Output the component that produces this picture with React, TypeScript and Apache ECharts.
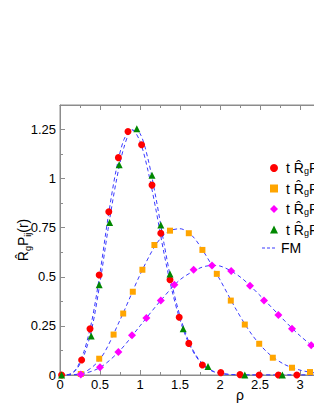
import React, { useEffect, useRef } from 'react';
import * as echarts from 'echarts';

// Simulation markers (rho, value)
const p11Rho = [0.02, 0.27, 0.375, 0.49, 0.61, 0.73, 0.85, 1.02, 1.15, 1.26, 1.375, 1.49, 1.61, 1.78, 2.01, 2.25, 2.49, 2.73, 2.96];
const p11Val = [0.0, 0.076, 0.235, 0.509, 0.831, 1.107, 1.24, 1.173, 0.967, 0.722, 0.485, 0.294, 0.161, 0.051, 0.012, 0.002, 0.0, 0.0, 0.0];

const p12Rho = [0.26, 0.49, 0.67, 0.79, 0.91, 1.03, 1.18, 1.375, 1.61, 1.78, 1.96, 2.135, 2.31, 2.49, 2.66, 2.9, 3.125];
const p12Val = [0.005, 0.083, 0.206, 0.313, 0.424, 0.536, 0.662, 0.735, 0.722, 0.637, 0.515, 0.379, 0.257, 0.159, 0.088, 0.037, 0.015];

const p13Rho = [0.26, 0.5, 0.73, 0.9, 1.08, 1.26, 1.43, 1.67, 1.9, 2.14, 2.375, 2.55, 2.73, 2.9, 3.14];
const p13Val = [0.003, 0.04, 0.117, 0.203, 0.29, 0.38, 0.46, 0.536, 0.558, 0.53, 0.455, 0.38, 0.306, 0.235, 0.152];

const p22Rho = [0.02, 0.39, 0.49, 0.62, 0.74, 0.96, 1.15, 1.26, 1.375, 1.54, 1.85, 2.31, 2.78];
const p22Val = [0.0, 0.198, 0.46, 0.777, 1.071, 1.254, 1.017, 0.764, 0.514, 0.235, 0.043, 0.0, 0.0];

// FM curves (rho, value)
const fm11Rho = [0, 0.1, 0.2, 0.3, 0.4, 0.5, 0.6, 0.7, 0.8, 0.9, 1.0, 1.1, 1.2, 1.3, 1.4, 1.5, 1.6, 1.7, 1.8, 1.9, 2.0, 2.2, 2.4, 4.5];
const fm11Val = [0, 0.002, 0.03, 0.12, 0.28, 0.52, 0.8, 1.04, 1.2, 1.25, 1.19, 1.04, 0.84, 0.62, 0.43, 0.28, 0.17, 0.095, 0.045, 0.02, 0.008, 0.001, 0, 0];

const fm22Rho = [0, 0.1, 0.2, 0.3, 0.4, 0.5, 0.6, 0.7, 0.8, 0.9, 1.0, 1.1, 1.2, 1.3, 1.4, 1.5, 1.6, 1.7, 1.8, 1.9, 2.0, 2.2, 2.4, 4.5];
const fm22Val = [0, 0.001, 0.025, 0.1, 0.24, 0.47, 0.74, 0.98, 1.16, 1.245, 1.23, 1.1, 0.9, 0.67, 0.46, 0.3, 0.18, 0.1, 0.05, 0.022, 0.009, 0.001, 0, 0];

const fm12Rho = [0, 0.25, 0.5, 0.75, 1.0, 1.2, 1.35, 1.5, 1.65, 1.8, 2.0, 2.2, 2.4, 2.6, 2.8, 3.0, 3.2, 3.5, 4.5];
const fm12Val = [0, 0.006, 0.08, 0.28, 0.51, 0.665, 0.73, 0.745, 0.71, 0.625, 0.485, 0.335, 0.205, 0.112, 0.055, 0.025, 0.01, 0.003, 0];

const fm13Rho = [0, 0.25, 0.5, 0.75, 1.0, 1.25, 1.5, 1.75, 1.9, 2.0, 2.25, 2.5, 2.75, 3.0, 3.25, 3.5, 3.75, 4.0, 4.5];
const fm13Val = [0, 0.004, 0.038, 0.125, 0.25, 0.375, 0.485, 0.545, 0.558, 0.555, 0.5, 0.405, 0.3, 0.2, 0.12, 0.065, 0.032, 0.015, 0.003];

const legendLabels: Record<string, string> = {
  P11: 't R\u0302{s|g}P{s|11}',
  P12: 't R\u0302{s|g}P{s|12}',
  P13: 't R\u0302{s|g}P{s|13}',
  P22: 't R\u0302{s|g}P{s|22}',
};
const fmLabel = 'FM';

const zip = (a: number[], b: number[]) => a.map((x, i) => [x, b[i]]);

const FONT = 'Liberation Sans, Arial, sans-serif';
const AXIS_COLOR = '#8c8c8c';
const FM_COLOR = '#3a3aff';

export default function App() {
  const ref = useRef<HTMLDivElement>(null);
  useEffect(() => {
    if (!ref.current) return;
    const chart = echarts.init(ref.current, undefined, { renderer: 'svg' });
    const fmSeries = (rho: number[], val: number[]) => ({
      name: 'FM',
      type: 'line',
      xAxisIndex: 0,
      yAxisIndex: 0,
      data: zip(rho, val),
      smooth: 0.3,
      symbol: 'none',
      lineStyle: { color: FM_COLOR, width: 1, type: [4, 3] },
      itemStyle: { color: FM_COLOR },
      z: 2,
    });
    const scatter = (name: string, rho: number[], val: number[], symbol: string, color: string, size: number) => ({
      name,
      type: 'scatter',
      xAxisIndex: 0,
      yAxisIndex: 0,
      data: zip(rho, val),
      symbol,
      symbolSize: size,
      itemStyle: { color, opacity: 1 },
      z: 3,
    });
    const axisCommon = {
      axisLine: { show: true, onZero: false, lineStyle: { color: AXIS_COLOR, width: 1 } },
      axisTick: { show: true, inside: true, length: 5, lineStyle: { color: AXIS_COLOR } },
      minorTick: { show: true, splitNumber: 2, length: 3, lineStyle: { color: AXIS_COLOR } },
      splitLine: { show: false },
      minorSplitLine: { show: false },
    };
    chart.setOption({
      animation: false,
      backgroundColor: '#ffffff',
      grid: {
        left: 60,
        top: 105,
        bottom: 32,
        right: -106,
        outerBoundsMode: 'none',
        containLabel: false,
        show: true,
        borderColor: AXIS_COLOR,
        borderWidth: 1,
        backgroundColor: 'transparent',
      },
      legend: {
        orient: 'vertical',
        left: 265,
        top: 155,
        itemWidth: 8,
        itemHeight: 8,
        itemGap: 4.5,
        data: ['P11', 'P12', 'P13', 'P22'],
        formatter: (n: string) => legendLabels[n],
        textStyle: {
          fontFamily: FONT,
          fontSize: 14,
          color: '#000',
          lineHeight: 16,
          padding: [0, 0, 0, 3],
          rich: {
            s: { fontSize: 9, fontFamily: FONT, color: '#000', lineHeight: 16, padding: [6, 0, 0, 0] },
          },
        },
      },
      graphic: [
        {
          type: 'line',
          shape: { x1: 262, y1: 248, x2: 276, y2: 248 },
          style: { stroke: FM_COLOR, lineWidth: 1, lineDash: [3, 2] },
          z: 10,
        },
        {
          type: 'text',
          x: 281,
          y: 248,
          style: { text: fmLabel, font: `14px ${FONT}`, fill: '#000', textVerticalAlign: 'middle', verticalAlign: 'middle' },
          z: 10,
        },
      ],
      xAxis: [
        {
          type: 'value',
          gridIndex: 0,
          min: 0,
          max: 4.5,
          interval: 0.5,
          position: 'bottom',
          name: 'ρ',
          nameLocation: 'middle',
          nameGap: 13,
          nameMoveOverlap: false,
          nameTextStyle: { fontFamily: FONT, fontSize: 14, color: '#000' },
          axisLabel: {
            margin: 3,
            fontFamily: FONT,
            fontSize: 13,
            color: '#000',
            showMaxLabel: false,
            formatter: (v: number) => (v <= 3 ? String(v) : ''),
          },
          ...axisCommon,
        },
        {
          type: 'value',
          gridIndex: 0,
          show: true,
          offset: 0,
          min: 0,
          max: 4.5,
          interval: 0.5,
          position: 'top',
          axisLabel: { show: false },
          ...axisCommon,
        },
      ],
      yAxis: [
        {
          type: 'value',
          gridIndex: 0,
          min: 0,
          max: 1.375,
          interval: 0.25,
          position: 'left',
          name: 'R\u0302{s|g}P{s|ij}(r)',
          nameLocation: 'middle',
          nameGap: 28,
          nameRotate: 90,
          nameMoveOverlap: false,
          nameTextStyle: {
            fontFamily: FONT,
            fontSize: 14,
            color: '#000',
            rich: { s: { fontSize: 9, fontFamily: FONT, color: '#000', padding: [9, 0, 0, 0] } },
          },
          axisLabel: {
            margin: 4,
            fontFamily: FONT,
            fontSize: 13,
            color: '#000',
            showMaxLabel: false,
            formatter: (v: number) => (Math.abs(v / 0.25 - Math.round(v / 0.25)) < 1e-6 ? String(v) : ''),
          },
          ...axisCommon,
        },
        {
          type: 'value',
          gridIndex: 0,
          show: true,
          offset: 0,
          min: 0,
          max: 1.375,
          interval: 0.25,
          position: 'right',
          axisLabel: { show: false },
          ...axisCommon,
        },
      ],
      series: [
        fmSeries(fm11Rho, fm11Val),
        fmSeries(fm22Rho, fm22Val),
        fmSeries(fm12Rho, fm12Val),
        fmSeries(fm13Rho, fm13Val),
        scatter('P11', p11Rho, p11Val, 'circle', '#ff0000', 7),
        scatter('P12', p12Rho, p12Val, 'rect', '#ffa500', 6),
        scatter('P13', p13Rho, p13Val, 'diamond', '#ff00ff', 8),
        scatter('P22', p22Rho, p22Val, 'triangle', '#008800', 7),
      ],
    });
    return () => chart.dispose();
  }, []);
  return (
    <div
      ref={ref}
      style={{ position: 'fixed', left: 0, top: 0, width: 314, height: 407, overflow: 'hidden' }}
    />
  );
}
